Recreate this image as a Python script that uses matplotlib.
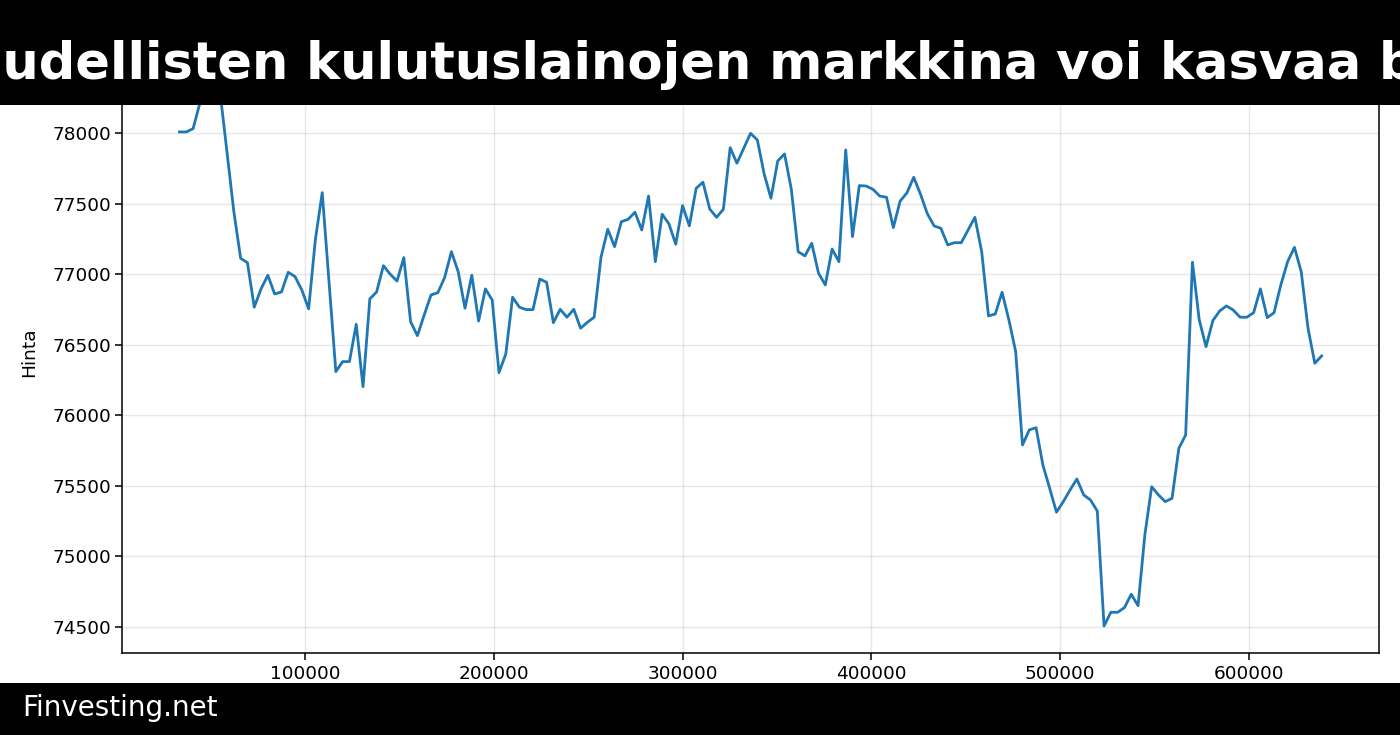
import matplotlib.pyplot as plt
import numpy as np
from matplotlib.patches import Rectangle

# x-akseli: tasavälinen sarja
x_start = 33300
x_step = 3603

hinta = [
    78011, 78011, 78034, 78215, 78370, 78385, 78282, 77862, 77445, 77114,
    77083, 76767, 76897, 76994, 76861, 76875, 77015, 76984, 76889, 76755,
    77251, 77580, 76950, 76310, 76381, 76381, 76646, 76203, 76826, 76875,
    77062, 77001, 76953, 77119, 76664, 76565, 76712, 76854, 76870, 76977,
    77161, 77019, 76760, 76994, 76669, 76897, 76818, 76302, 76435, 76838,
    76767, 76750, 76750, 76967, 76944, 76657, 76752, 76696, 76752, 76618,
    76660, 76696, 77121, 77320, 77197, 77374, 77391, 77441, 77315, 77556,
    77090, 77427, 77358, 77214, 77488, 77344, 77611, 77654, 77464, 77405,
    77462, 77899, 77789, 77895, 78001, 77954, 77713, 77540, 77805, 77855,
    77604, 77161, 77131, 77221, 77008, 76925, 77180, 77090, 77883, 77268,
    77630, 77627, 77604, 77556, 77547, 77332, 77520, 77578, 77689, 77569,
    77431, 77344, 77327, 77209, 77225, 77225, 77315, 77405, 77161, 76705,
    76719, 76873, 76677, 76452, 75789, 75896, 75912, 75647, 75482, 75312,
    75387, 75470, 75548, 75435, 75399, 75321, 74505, 74602, 74602, 74635,
    74730, 74649, 75151, 75493, 75435, 75387, 75411, 75766, 75860, 77086,
    76677, 76487, 76672, 76740, 76776, 76747, 76696, 76696, 76728, 76897,
    76693, 76728, 76925, 77090, 77192, 77019, 76618, 76369, 76421,
]
x = x_start + x_step * np.arange(len(hinta))

otsikko = 'uudellisten kulutuslainojen markkina voi kasvaa biljoonaan'
lahde = 'Finvesting.net'

fig = plt.figure(figsize=(14, 7.35), dpi=100)
ax = fig.add_axes([0.0874, 0.1112, 0.8974, 0.8182])

ax.plot(x, hinta, color='#1f77b4', linewidth=2.0)
ax.set_ylabel('Hinta', fontsize=13.3, labelpad=10)
ax.grid(True, alpha=0.3, linewidth=1.0)
ax.tick_params(labelsize=13.3, length=4.7, width=1.1)
for s in ax.spines.values():
    s.set_linewidth(1.1)

# musta otsikkopalkki ja alapalkki
fig.add_artist(Rectangle((0, 1 - 105 / 735), 1, 105 / 735, transform=fig.transFigure,
                         facecolor='black', edgecolor='none', zorder=10))
fig.add_artist(Rectangle((0, 0), 1, 52 / 735, transform=fig.transFigure,
                         facecolor='black', edgecolor='none', zorder=10))
fig.text(-34 / 1400, 1 - 79.5 / 735, otsikko, color='white', fontsize=36.8,
         fontweight='bold', ha='left', va='baseline', zorder=11)
fig.text(22 / 1400, 1 - 708 / 735, lahde, color='white', fontsize=20,
         ha='left', va='center', zorder=11)

plt.savefig('out.png', dpi=100)
